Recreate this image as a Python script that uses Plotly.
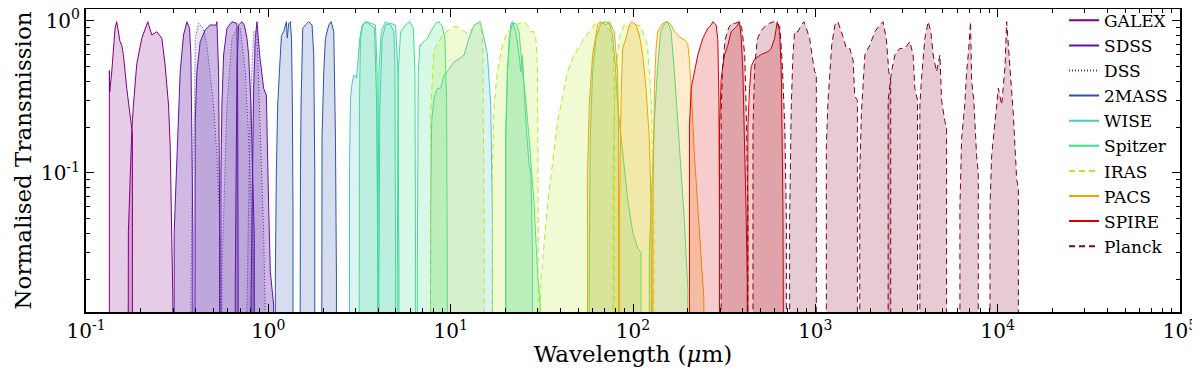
import plotly.graph_objects as go

# ---- filter transmission curves (wavelength in micron, normalised transmission) ----
GALEX_FUV_WL = [0.1343, 0.1350, 0.1384, 0.1413, 0.1443, 0.1474, 0.1505, 0.1537, 0.157, 0.1603, 0.1673, 0.173, 0.1782, 0.1797]
GALEX_FUV_T = [0.47, 0.34, 0.46, 0.69, 0.89, 0.985, 0.85, 0.73, 0.69, 0.60, 0.36, 0.26, 0.195, 0.18]
GALEX_NUV_WL = [0.1694, 0.1708, 0.1782, 0.182, 0.1899, 0.2023, 0.2182, 0.2296, 0.2446, 0.2606, 0.2716, 0.2835, 0.2895, 0.2956, 0.2994]
GALEX_NUV_T = [0.03, 0.041, 0.186, 0.279, 0.52, 0.766, 0.985, 0.805, 0.847, 0.766, 0.511, 0.279, 0.152, 0.0287, 0.015]

SDSS_U_WL = [0.3045, 0.3083, 0.3175, 0.3286, 0.3427, 0.3575, 0.3698, 0.3761, 0.3808, 0.3857]
SDSS_U_T = [0.04, 0.0614, 0.168, 0.462, 0.805, 0.985, 0.891, 0.595, 0.168, 0.0371]
SDSS_G_WL = [0.3939, 0.3972, 0.4057, 0.4231, 0.4506, 0.4801, 0.5181, 0.5224, 0.5335, 0.5403]
SDSS_G_T = [0.1, 0.217, 0.462, 0.728, 0.871, 0.937, 0.937, 0.985, 0.462, 0.0614]
SDSS_R_WL = [0.5495, 0.5565, 0.5684, 0.5929, 0.6316, 0.6729, 0.6786, 0.683]
SDSS_R_T = [0.1, 0.279, 0.595, 0.891, 0.985, 0.96, 0.3, 0.02]
SDSS_I_WL = [0.6589, 0.6729, 0.6871, 0.7167, 0.7383, 0.7636, 0.7798, 0.8032, 0.8236, 0.8377]
SDSS_I_T = [0.02, 0.5, 0.937, 0.985, 0.937, 0.766, 0.595, 0.279, 0.101, 0.037]
SDSS_Z_WL = [0.8032, 0.8306, 0.8483, 0.8664, 0.8962, 0.9428, 0.975, 1.004, 1.0256, 1.0698]
SDSS_Z_T = [0.0135, 0.359, 0.766, 0.985, 0.595, 0.359, 0.325, 0.0614, 0.0223, 0.0135]

DSS_B_WL = [0.3761, 0.3808, 0.3939, 0.3972, 0.4143, 0.44, 0.4603, 0.5008, 0.5224, 0.5449, 0.5565]
DSS_B_T = [0.0135, 0.0614, 0.279, 0.766, 0.961, 0.891, 0.692, 0.279, 0.131, 0.037, 0.0135]
DSS_R_WL = [0.5565, 0.5929, 0.6316, 0.6729, 0.7018, 0.7475, 0.7798, 0.8134, 0.8377]
DSS_R_T = [0.0223, 0.279, 0.766, 0.891, 0.891, 0.462, 0.168, 0.0477, 0.0135]
DSS_I_WL = [0.7636, 0.797, 0.8306, 0.8664, 0.90, 0.9428, 0.96]
DSS_I_T = [0.0135, 0.3, 0.85, 0.85, 0.2, 0.04, 0.0135]

TMASS_J_WL = [1.0926, 1.1065, 1.1254, 1.15, 1.18, 1.2138, 1.2556, 1.27, 1.2932, 1.32, 1.34, 1.355, 1.365]
TMASS_J_T = [0.02, 0.10, 0.279, 0.46, 0.8, 0.847, 0.985, 0.77, 0.96, 0.985, 0.766, 0.279, 0.06]
TMASS_H_WL = [1.4862, 1.50, 1.5117, 1.5438, 1.5965, 1.6654, 1.70, 1.7374, 1.7745, 1.7971]
TMASS_H_T = [0.02, 0.1, 0.279, 0.891, 0.937, 0.985, 0.96, 0.937, 0.595, 0.101]
TMASS_K_WL = [1.9548, 1.97, 2.0137, 2.0567, 2.1453, 2.2096, 2.2856, 2.3344, 2.3636]
TMASS_K_T = [0.02, 0.168, 0.462, 0.766, 0.937, 0.985, 0.847, 0.168, 0.02]

WISE_W1_WL = [2.787, 2.822, 2.883, 2.944, 3.045, 3.097, 3.176, 3.271, 3.412, 3.635, 3.823, 3.922, 3.989]
WISE_W1_T = [0.11, 0.309, 0.39, 0.44, 0.42, 0.537, 0.766, 0.937, 0.985, 0.937, 0.891, 0.3, 0.02]
WISE_W2_WL = [4.04, 4.09, 4.21, 4.39, 4.681, 4.986, 5.14, 5.202]
WISE_W2_T = [0.02, 0.279, 0.766, 0.937, 0.961, 0.937, 0.46, 0.02]
WISE_W3_WL = [7.70, 7.766, 7.87, 8.1, 8.45, 8.814, 9.2, 9.588, 10.43, 11.1, 11.84, 12.6, 13.44, 14.5, 15.25, 15.91, 16.59, 16.94]
WISE_W3_T = [0.015, 0.061, 0.217, 0.309, 0.359, 0.36, 0.44, 0.462, 0.537, 0.56, 0.595, 0.766, 0.937, 0.985, 0.766, 0.595, 0.279, 0.05]
WISE_W4_WL = [20.05, 20.48, 21.36, 21.82, 22.76, 23.74, 24.24, 24.76, 25.83, 26.94, 27.52, 28.10]
WISE_W4_T = [0.2, 0.462, 0.937, 0.985, 0.847, 0.595, 0.462, 0.595, 0.217, 0.112, 0.101, 0.03]

IRAC1_WL = [3.136, 3.16, 3.2, 3.3, 3.48, 3.71, 3.87, 3.95, 3.989]
IRAC1_T = [0.02, 0.279, 0.766, 0.937, 0.985, 0.961, 0.937, 0.46, 0.02]
IRAC2_WL = [3.989, 4.04, 4.16, 4.39, 4.681, 4.882, 4.95, 4.986]
IRAC2_T = [0.02, 0.46, 0.847, 0.985, 0.937, 0.847, 0.5, 0.02]
IRAC3_WL = [5.093, 5.16, 5.313, 5.66, 5.98, 6.24, 6.37, 6.423]
IRAC3_T = [0.02, 0.46, 0.847, 0.937, 0.985, 0.891, 0.46, 0.02]
IRAC4_WL = [6.56, 6.64, 6.79, 7.14, 7.44, 7.766, 8.273, 8.63, 9.0, 9.3, 9.5, 9.588]
IRAC4_T = [0.02, 0.46, 0.692, 0.728, 0.766, 0.847, 0.961, 0.985, 0.913, 0.766, 0.3, 0.02]
MIPS24_WL = [20.05, 20.48, 20.92, 21.82, 22.76, 23.74, 24.76, 25.83, 26.94, 28.70, 29.94, 30.96]
MIPS24_T = [0.15, 0.46, 0.766, 0.961, 0.961, 0.847, 0.46, 0.3, 0.168, 0.0614, 0.0223, 0.0135]
MIPS70_WL = [57.56, 58.3, 60.03, 62.62, 66.7, 71.07, 74.13, 77.3, 80.0, 82.4, 87.7, 93.5, 99.6, 106.1, 110.7]
MIPS70_T = [0.02, 0.168, 0.462, 0.766, 0.961, 0.985, 0.961, 0.8, 0.5, 0.279, 0.131, 0.067, 0.041, 0.032, 0.030]
MIPS160_WL = [122.9, 125.6, 131.0, 136.6, 142.0, 151.0, 155.1, 161.8, 168.8, 176.0, 183.6, 191.5, 199.8]
MIPS160_T = [0.03, 0.06, 0.22, 0.5, 0.85, 0.985, 0.98, 0.85, 0.46, 0.217, 0.101, 0.048, 0.0174]

IRAS12_WL = [7.766, 8.08, 9.19, 10.43, 10.85, 12.34, 13.44, 14.6, 15.0, 15.25]
IRAS12_T = [0.25, 0.641, 0.826, 0.913, 0.913, 0.826, 0.913, 0.985, 0.7, 0.05]
IRAS25_WL = [16.94, 17.30, 18.04, 19.22, 20.48, 22.28, 23.74, 25.29, 26.38, 27.52, 28.70, 29.31, 29.94, 30.2]
IRAS25_T = [0.1, 0.279, 0.462, 0.692, 0.847, 0.913, 0.961, 0.985, 0.937, 0.847, 0.847, 0.766, 0.5, 0.05]
IRAS60_WL = [30.96, 33.98, 38.55, 43.75, 47.62, 54.02, 61.31, 65.31, 70.0, 75.0, 78.0, 79.0]
IRAS60_T = [0.0174, 0.0614, 0.217, 0.462, 0.595, 0.766, 0.937, 0.985, 0.95, 0.85, 0.6, 0.3]
IRAS100_WL = [77.66, 80.0, 85.0, 90.0, 95.0, 100.0, 110.0, 120.0, 126.0, 130.0]
IRAS100_T = [0.1, 0.45, 0.8, 0.95, 0.9, 0.96, 0.92, 0.7, 0.3, 0.05]

PACS70_WL = [56.35, 57.56, 60.03, 63.95, 66.14, 71.07, 74.13, 78.96, 82.37, 83.2]
PACS70_T = [0.1, 0.279, 0.595, 0.937, 0.985, 0.937, 0.985, 0.847, 0.462, 0.2]
PACS100_WL = [84.1, 85.9, 87.7, 91.5, 95.5, 98.3, 103.9, 108.3, 113.0, 117.9, 122.9, 125.6, 128.3]
PACS100_T = [0.05, 0.279, 0.658, 0.766, 0.937, 0.985, 0.937, 0.805, 0.595, 0.359, 0.168, 0.0614, 0.02]
PACS160_WL = [128.3, 131.0, 133.8, 136.6, 139.6, 145.6, 155.1, 161.8, 168.8, 176.0, 183.6, 191.5, 199.8, 204.0, 208.4, 217.3, 226.7, 236.4, 244.5]
PACS160_T = [0.05, 0.359, 0.658, 0.847, 0.891, 0.961, 0.985, 0.937, 0.847, 0.805, 0.766, 0.75, 0.7, 0.55, 0.36, 0.13, 0.06, 0.03, 0.015]

SPIRE250_WL = [204.0, 208.4, 217.3, 226.7, 241.5, 257.2, 268.3, 274.0, 285.8, 291.9, 296.0, 298.2]
SPIRE250_T = [0.2, 0.36, 0.462, 0.595, 0.766, 0.891, 0.937, 0.985, 0.937, 0.75, 0.3, 0.05]
SPIRE350_WL = [298.2, 304.5, 317.6, 331.3, 345.6, 360.5, 376.0, 384.0, 392.2, 400.6, 409.1, 417.8, 423.1]
SPIRE350_T = [0.2, 0.418, 0.595, 0.69, 0.847, 0.891, 0.937, 0.985, 0.766, 0.46, 0.168, 0.05, 0.02]
SPIRE500_WL = [426.6, 435.7, 445.0, 464.2, 505.0, 549.5, 573.2, 597.9, 618.4, 636.8, 650.4, 664.2, 678.4]
SPIRE500_T = [0.2, 0.359, 0.5, 0.56, 0.6, 0.625, 0.658, 0.766, 0.985, 0.85, 0.46, 0.06, 0.02]

PLANCK857_WL = [304.5, 310, 320, 335, 350, 365, 380, 395, 410, 420, 426.6]
PLANCK857_T = [0.25, 0.5, 0.75, 0.9, 0.97, 0.96, 0.985, 0.9, 0.6, 0.2, 0.05]
PLANCK545_WL = [455, 465, 480, 500, 530, 560, 590, 620, 640, 660, 680, 694]
PLANCK545_T = [0.2, 0.5, 0.75, 0.85, 0.92, 0.96, 0.985, 0.96, 0.9, 0.5, 0.2, 0.05]
PLANCK353_WL = [722.8, 738.1, 753.9, 769.9, 803.1, 837.8, 866.5, 892.4, 930.8, 971.0, 991.6, 1012.7]
PLANCK353_T = [0.05, 0.279, 0.595, 0.847, 0.847, 0.937, 0.985, 0.891, 0.766, 0.537, 0.462, 0.45]
PLANCK217_WL = [1149, 1174, 1230, 1280, 1330, 1390, 1480, 1544, 1611, 1645, 1701]
PLANCK217_T = [0.15, 0.3, 0.69, 0.937, 0.985, 0.847, 0.66, 0.66, 0.55, 0.32, 0.3]
PLANCK143_WL = [1753, 1790, 1828, 1870, 1990, 2120, 2260, 2350, 2450, 2530, 2590]
PLANCK143_T = [0.1, 0.25, 0.418, 0.6, 0.69, 0.847, 0.937, 0.985, 0.766, 0.462, 0.4]
PLANCK100_WL = [2508, 2616, 2729, 2907, 3096, 3298, 3440, 3513, 3634]
PLANCK100_T = [0.3, 0.462, 0.595, 0.658, 0.658, 0.728, 0.595, 0.359, 0.3]
PLANCK70_WL = [3744, 3823, 3988, 4159, 4300, 4432, 4622, 4823, 4925, 5137, 5246]
PLANCK70_T = [0.279, 0.418, 0.766, 0.985, 0.847, 0.595, 0.462, 0.595, 0.3, 0.217, 0.2]
PLANCK44_WL = [6209, 6342, 6600, 6755, 6900, 7100, 7200, 7400, 7664, 7829]
PLANCK44_T = [0.06, 0.168, 0.279, 0.46, 0.6, 0.985, 0.4, 0.3, 0.13, 0.1]
PLANCK30_WL = [9077, 9268, 9668, 10085, 10520, 10973, 11206, 11690, 12194, 12720, 12991]
PLANCK30_T = [0.06, 0.13, 0.217, 0.36, 0.28, 0.5, 0.985, 0.46, 0.24, 0.09, 0.08]

X_TICKS = [0.1, 1, 10, 100, 1000, 10000, 100000]
X_TICKTEXT = ['10<sup>-1</sup>', '10<sup>0</sup>', '10<sup>1</sup>', '10<sup>2</sup>',
              '10<sup>3</sup>', '10<sup>4</sup>', '10<sup>5</sup>']
Y_TICKS = [0.1, 1]
Y_TICKTEXT = ['10<sup>-1</sup>', '10<sup>0</sup>']

FLOOR = 1e-4  # curves drop off below the plotted range at the band edges

# instrument: (line colour, dash, fill alpha, bands)
instruments = [
    ('GALEX', (128, 0, 128), 'solid', 0.2,
     [(GALEX_FUV_WL, GALEX_FUV_T), (GALEX_NUV_WL, GALEX_NUV_T)]),
    ('SDSS', (96, 20, 160), 'solid', 0.3,
     [(SDSS_U_WL, SDSS_U_T), (SDSS_G_WL, SDSS_G_T), (SDSS_R_WL, SDSS_R_T),
      (SDSS_I_WL, SDSS_I_T), (SDSS_Z_WL, SDSS_Z_T)]),
    ('DSS', (70, 50, 170), '1px,2px', 0.12,
     [(DSS_B_WL, DSS_B_T), (DSS_R_WL, DSS_R_T), (DSS_I_WL, DSS_I_T)]),
    ('2MASS', (45, 85, 170), 'solid', 0.2,
     [(TMASS_J_WL, TMASS_J_T), (TMASS_H_WL, TMASS_H_T), (TMASS_K_WL, TMASS_K_T)]),
    ('WISE', (80, 195, 200), 'solid', 0.2,
     [(WISE_W1_WL, WISE_W1_T), (WISE_W2_WL, WISE_W2_T), (WISE_W3_WL, WISE_W3_T),
      (WISE_W4_WL, WISE_W4_T)]),
    ('Spitzer', (60, 225, 140), 'solid', 0.2,
     [(IRAC1_WL, IRAC1_T), (IRAC2_WL, IRAC2_T), (IRAC3_WL, IRAC3_T), (IRAC4_WL, IRAC4_T),
      (MIPS24_WL, MIPS24_T), (MIPS70_WL, MIPS70_T), (MIPS160_WL, MIPS160_T)]),
    ('IRAS', (180, 235, 40), '6px,4px', 0.2,
     [(IRAS12_WL, IRAS12_T), (IRAS25_WL, IRAS25_T), (IRAS60_WL, IRAS60_T),
      (IRAS100_WL, IRAS100_T)]),
    ('PACS', (250, 160, 0), 'solid', 0.2,
     [(PACS70_WL, PACS70_T), (PACS100_WL, PACS100_T), (PACS160_WL, PACS160_T)]),
    ('SPIRE', (215, 0, 0), 'solid', 0.2,
     [(SPIRE250_WL, SPIRE250_T), (SPIRE350_WL, SPIRE350_T), (SPIRE500_WL, SPIRE500_T)]),
    ('Planck', (128, 0, 32), '6px,4px', 0.2,
     [(PLANCK857_WL, PLANCK857_T), (PLANCK545_WL, PLANCK545_T), (PLANCK353_WL, PLANCK353_T),
      (PLANCK217_WL, PLANCK217_T), (PLANCK143_WL, PLANCK143_T), (PLANCK100_WL, PLANCK100_T),
      (PLANCK70_WL, PLANCK70_T), (PLANCK44_WL, PLANCK44_T), (PLANCK30_WL, PLANCK30_T)]),
]

FONT = 'DejaVu Serif'

fig = go.Figure()

for name, rgb, dash, alpha, bands in instruments:
    line_col = 'rgb(%d,%d,%d)' % rgb
    fill_col = 'rgba(%d,%d,%d,%.2f)' % (rgb + (alpha,))
    for wl, tr in bands:
        fig.add_trace(go.Scatter(
            x=[wl[0]] + wl + [wl[-1]],
            y=[FLOOR] + tr + [FLOOR],
            mode='lines',
            fill='toself',
            fillcolor=fill_col,
            line=dict(color=line_col, width=1, dash=dash),
            legendgroup=name,
            showlegend=False,
            hoverinfo='skip'
        ))
    # legend entry: line only, as in the original
    fig.add_trace(go.Scatter(
        x=[None], y=[None], mode='lines', name=name,
        line=dict(color=line_col, width=2, dash=dash),
        legendgroup=name
    ))

# minor ticks at 2..9 of every decade
x_minor = [m * 10.0 ** e for e in range(-1, 5) for m in range(2, 10)]
y_minor = [m * 10.0 ** e for e in (-2, -1) for m in range(2, 10)]

axis_style = dict(
    type='log', automargin=False, ticklabeloverflow='allow',
    showline=True, linecolor='black', linewidth=2, mirror='allticks',
    ticks='inside', ticklen=8, tickwidth=1, tickcolor='black',
    showgrid=False, zeroline=False,
    tickfont=dict(family=FONT, size=20, color='black'),
)

fig.update_xaxes(
    axis_style,
    range=[-1, 5],
    tickvals=X_TICKS, ticktext=X_TICKTEXT,
    minor=dict(tickvals=x_minor, ticks='inside', ticklen=4, tickwidth=1,
               tickcolor='black', showgrid=False),
    title=dict(text='Wavelength (<i>μ</i>m)', font=dict(family=FONT, size=23, color='black'), standoff=10),
)
fig.update_yaxes(
    axis_style,
    range=[-1.914, 0.077],
    tickvals=Y_TICKS, ticktext=Y_TICKTEXT,
    minor=dict(tickvals=y_minor, ticks='inside', ticklen=4, tickwidth=1,
               tickcolor='black', showgrid=False),
    title=dict(text='Normalised Transmission', font=dict(family=FONT, size=23, color='black'), standoff=3),
)

# the page body adds an 8px margin on the left/top, so the figure is offset by 8px
fig.update_layout(
    width=1192, height=359,
    margin=dict(l=78, r=20, t=1, b=55, autoexpand=False),
    plot_bgcolor='white', paper_bgcolor='white',
    font=dict(family=FONT, size=20, color='black'),
    legend=dict(
        x=0.894, y=0.59, xanchor='left', yanchor='middle',
        bgcolor='rgba(0,0,0,0)', borderwidth=0,
        font=dict(family=FONT, size=17, color='black'),
        tracegroupgap=0,
    ),
)

fig.write_html('out.html')
